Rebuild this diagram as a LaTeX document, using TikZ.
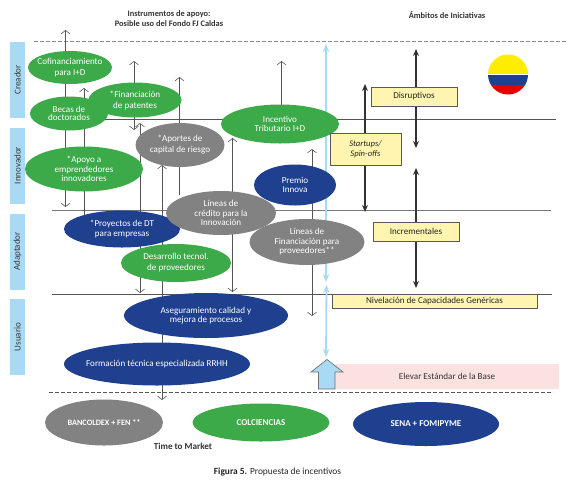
\documentclass[tikz,border=0pt]{standalone}
\usepackage{fontspec}
\setmainfont{Carlito}
\usetikzlibrary{arrows.meta,shapes.geometric}
\definecolor{cgreen}{HTML}{3DAA49}
\definecolor{cblue}{HTML}{1F3F8F}
\definecolor{cgrey}{HTML}{828282}
\definecolor{cband}{HTML}{A9DAF5}
\definecolor{cyell}{HTML}{FFF5B0}
\definecolor{cpink}{HTML}{FCE1E1}
\definecolor{ctext}{HTML}{333333}
\definecolor{cline}{HTML}{555555}
\tikzset{
  oval/.style={ellipse,minimum width=#1,inner sep=-14pt,align=center,text=white,font=\fontsize{9.1}{9.5}\selectfont},
  band/.style={fill=cband,minimum width=15.5pt,minimum height=76pt,inner sep=0pt},
  bandtext/.style={rotate=90,text=ctext,font=\fontsize{9}{9}\selectfont},
  tag/.style={draw=black!65,line width=.6pt,fill=cyell,inner sep=0pt,align=center,text=black!85,font=\fontsize{9.1}{9.5}\selectfont},
  thin arrow/.style={draw=cline,line width=.6pt},
  barbs/.style={{Straight Barb[length=3.5pt,width=9pt]}-{Straight Barb[length=3.5pt,width=9pt]}},
  barbup/.style={{Straight Barb[length=3.5pt,width=9pt]}-},
  black arrow/.style={draw=black!80,line width=1.2pt,{Stealth[length=7pt,width=6pt]}-{Stealth[length=7pt,width=6pt]}},
  blue arrow/.style={draw=cband,line width=1.8pt,{Stealth[length=8pt,width=6.5pt]}-{Stealth[length=8pt,width=6.5pt]}},
  level/.style={draw=cline,line width=.7pt},
  dash level/.style={draw=black!65,line width=.6pt,dash pattern=on 3.5pt off 2.5pt},
  head/.style={font=\bfseries\fontsize{8.4}{10.5}\selectfont,text=ctext,align=center},
}
\begin{document}
\begin{tikzpicture}[x=1pt,y=-1pt]
\useasboundingbox (0,0) rectangle (575,480);
\fill[white] (0,0) rectangle (575,480);
% end points
\foreach \n/\x/\y in {a1/65.5/30,a2/65.5/207,b1/84/88,b2/84/215,c1/134/61,c2/134/130,d1/140/123,d2/140/293,
  e1/162/165,e2/162/400,f1/179.5/77,f2/179.5/195,g1/232.5/138,g2/232.5/292,h1/281.5/61,h2/281.5/110,
  i1/312/149,i2/312/316,
  j1/326/44,j2/326/282,k1/326.5/285,k2/326/357,
  l1/416/49,l2/416/148,m1/416/168,m2/416/288,n1/365/84,n2/365/212,
  p1/105/119.5,p2/556/119.5,q1/52/210,q2/551/210,r1/52/294,r2/552/294,
  s1/34/41,s2/566/41,t1/49/392.5,t2/553/392.5}
  {\coordinate (\n) at (\x,\y);}
% level lines
\draw[level] (p1) -- (p2);
\draw[level,draw=cline!80,line width=.9pt] (q1) -- (q2);
\draw[level] (r1) -- (r2);
\draw[dash level,draw=black!45,line width=.8pt] (s1) -- (s2);
\draw[dash level] (t1) -- (t2);
% pink band
\node[fill=cpink,minimum width=224pt,minimum height=25pt,inner sep=0pt,text=ctext,font=\fontsize{9.1}{9.5}\selectfont] (base) at (447,376.5) {Elevar Estándar de la Base};
% blue arrows
\draw[blue arrow] (j1) -- (j2);
\draw[blue arrow] (k1) -- (k2);
% thin arrows
\draw[thin arrow,barbs] (a1) -- (a2);
\draw[thin arrow,barbup] (b1) -- (b2);
\draw[thin arrow,barbs] (c1) -- (c2);
\draw[thin arrow,barbs] (d1) -- (d2);
\draw[thin arrow,barbs] (e1) -- (e2);
\draw[thin arrow,barbup] (f1) -- (f2);
\draw[thin arrow,barbs] (g1) -- (g2);
\draw[thin arrow,barbup] (h1) -- (h2);
\draw[thin arrow,barbs] (i1) -- (i2);
% black arrows
\draw[black arrow] (l1) -- (l2);
\draw[black arrow] (m1) -- (m2);
\draw[black arrow] (n1) -- (n2);
% bands
\node[band] (b-cre) at (17.5,80) {};
\node[band] (b-inn) at (17.5,165.5) {};
\node[band] (b-ada) at (17.5,251.5) {};
\node[band] (b-usu) at (17.5,337) {};
\node[bandtext] (t-cre) at (b-cre) {Creador};
\node[bandtext] (t-inn) at (b-inn) {Innovador};
\node[bandtext] (t-ada) at (b-ada) {Adaptador};
\node[bandtext] (t-usu) at (b-usu) {Usuario};
% ovals
\node[oval=84pt,minimum height=33pt,fill=cgreen] (cof) at (70,67.5) {Cofinanciamiento\\[2pt]para I+D};
\node[oval=78pt,minimum height=34pt,fill=cgreen] (bec) at (69,113.5) {Becas de\\[-1.5pt]doctorados};
\node[oval=93pt,minimum height=35pt,fill=cgreen] (fin) at (135,100) {*Financiación\\[1.5pt]de patentes};
\node[oval=118pt,minimum height=45pt,fill=cgreen] (apo) at (84,169) {*Apoyo a\\emprendedores\\innovadores};
\node[oval=89pt,minimum height=44pt,fill=cgrey] (apr) at (180,145) {*Aportes de\\[1.5pt]capital de riesgo};
\node[oval=118pt,minimum height=39pt,fill=cgreen] (inc) at (280,124) {Incentivo\\Tributario I+D};
\node[oval=82pt,minimum height=41pt,fill=cblue] (pre) at (295,185) {Premio\\Innova};
\node[oval=116pt,minimum height=37pt,fill=cblue] (pro) at (122,229) {*Proyectos de DT\\para empresas};
\node[oval=110pt,minimum height=44pt,fill=cgrey] (cre) at (221,213) {Líneas de\\crédito para la\\Innovación};
\node[oval=115pt,minimum height=46pt,fill=cgrey] (lfi) at (307,242) {Líneas de\\Financiación para\\proveedores**};
\node[oval=110pt,minimum height=38pt,fill=cgreen] (des) at (176,263) {Desarrollo tecnol.\\[1.5pt]de proveedores};
\node[oval=164pt,minimum height=45pt,fill=cblue] (ase) at (206,315.5) {Aseguramiento calidad y\\mejora de procesos};
\node[oval=186pt,minimum height=43pt,fill=cblue] (for) at (157,364) {Formación técnica especializada RRHH};
\node[oval=118pt,minimum height=46pt,fill=cgrey,font=\bfseries\fontsize{8.2}{9}\selectfont] (ban) at (104,422.5) {BANCOLDEX + FEN **};
\node[oval=137pt,minimum height=38pt,fill=cgreen,font=\bfseries\fontsize{9}{9}\selectfont] (col) at (261,422.5) {COLCIENCIAS};
\node[oval=146pt,minimum height=44pt,fill=cblue,font=\bfseries\fontsize{9}{9}\selectfont] (sen) at (426,424) {SENA + FOMIPYME};
% tags
\node[tag,minimum width=86pt,minimum height=19pt] (dis) at (414,96.5) {Disruptivos};
\node[tag,minimum width=71pt,minimum height=32pt,font=\itshape\fontsize{8.6}{9.5}\selectfont] (sta) at (365.5,149) {Startups/\\Spin-offs};
\node[tag,minimum width=86pt,minimum height=19pt] (inr) at (416,231.5) {Incrementales};
\node[tag,minimum width=205pt,minimum height=14pt] (niv) at (434.5,301) {Nivelación de Capacidades Genéricas};
% big arrow
\filldraw[draw=black!55,line width=.7pt,fill=cband] (327,359.5) -- (343,372) -- (335,372) -- (335,389) -- (318.5,389) -- (318.5,372) -- (311,372) -- cycle;
% flag
\begin{scope}
\clip (508,74.5) circle (20pt);
\fill[yellow!95!orange] (480,50) rectangle (535,74);
\fill[cblue] (480,74.5) rectangle (535,85);
\fill[red!90!black] (480,85) rectangle (535,100);
\end{scope}
% headings
\node[head] (h-ins) at (169,18.5) {Instrumentos de apoyo:\\Posible uso del Fondo FJ Caldas};
\node[head] (h-amb) at (447,15) {Ámbitos de Iniciativas};
\node[head,font=\bfseries\fontsize{9.1}{9.5}\selectfont] (ttm) at (183,446) {Time to Market};
\node[text=black!85,font=\fontsize{9.4}{9.5}\selectfont] (cap) at (277.5,472) {\textbf{Figura 5.} Propuesta de incentivos};
\end{tikzpicture}
\end{document}
